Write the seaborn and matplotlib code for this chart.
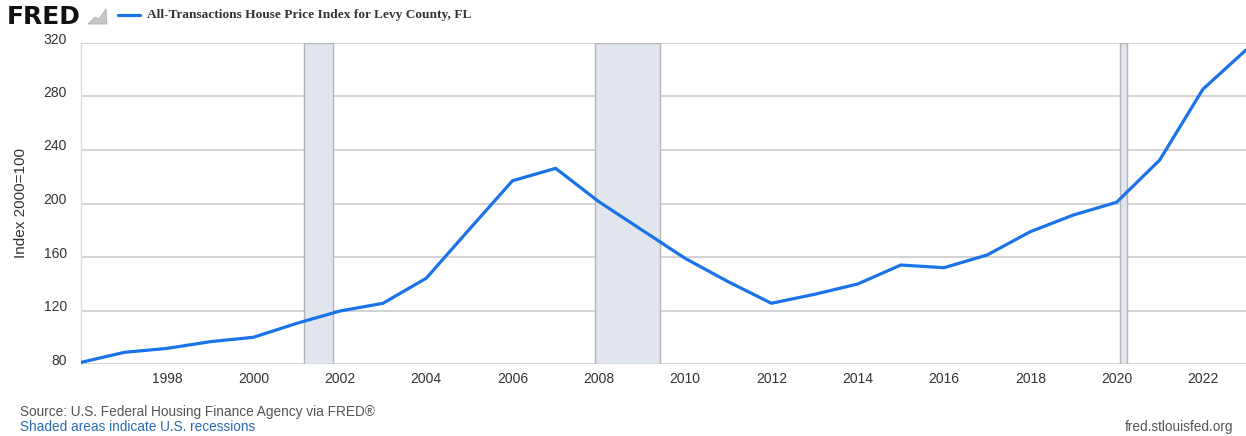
import matplotlib
matplotlib.use("Agg")
import matplotlib.pyplot as plt
import matplotlib.transforms as mtransforms
from matplotlib.patches import Polygon
import seaborn as sns
import pandas as pd

years = list(range(1996, 2024))
index_values = [81.2, 88.7, 91.7, 96.7, 100.0, 110.4, 119.6, 125.4, 144.1, 180.7,
                217.0, 226.3, 201.4, 180.2, 159.0, 141.5, 125.4, 132.1, 139.8, 154.0,
                152.0, 161.5, 178.9, 191.4, 200.9, 232.5, 285.4, 314.8]
recessions = [(2001.17, 2001.83), (2007.92, 2009.42), (2020.08, 2020.25)]
y_ticks = [80, 120, 160, 200, 240, 280, 320]
x_ticks = list(range(1998, 2023, 2))
series_name = "All-Transactions House Price Index for Levy County, FL"

df = pd.DataFrame({"year": years, "value": index_values})

sns.set_theme(style="whitegrid")
plt.rcParams['font.family'] = ['Liberation Sans', 'DejaVu Sans']

W, H = 1246, 436
fig = plt.figure(figsize=(W / 100, H / 100), dpi=100)
ax = fig.add_axes([81 / W, 1 - 364 / H, (1246 - 81) / W, (364 - 43) / H])

for a, b in recessions:
    ax.axvspan(a, b, facecolor="#e1e5ee", edgecolor="#b4b4b4", linewidth=1.0, zorder=1)

sns.lineplot(data=df, x="year", y="value", ax=ax, color="#1a73e8", linewidth=2.3, zorder=3)

ax.set_xlim(1996, 2023)
ax.set_ylim(80, 320)
ax.set_yticks(y_ticks)
ax.set_xticks(x_ticks)
ax.set_xticklabels([str(t) for t in x_ticks])
ax.grid(axis="y", color="#cccccc", linewidth=1.2)
ax.grid(axis="x", visible=False)
ax.set_facecolor("white")
for side in ["top", "right", "bottom"]:
    ax.spines[side].set_visible(False)
ax.spines["left"].set_color("#dddddd")
ax.spines["left"].set_linewidth(1.0)
ax.tick_params(axis="both", length=0, labelsize=10, labelcolor="#333333")
ax.tick_params(axis="y", pad=10)
ax.tick_params(axis="x", pad=6)
offset = mtransforms.ScaledTranslation(0, 5 / 100, fig.dpi_scale_trans)
for lbl in ax.get_yticklabels():
    lbl.set_transform(lbl.get_transform() + offset)
ax.set_xlabel("")
ax.set_ylabel("Index 2000=100", fontsize=11, color="#333333", labelpad=11)

# Header
fig.text(7 / W, 1 - 17 / H, "FRED", fontsize=18, fontweight="bold",
         family=["DejaVu Sans"], color="#111111", va="center", ha="left")
icon = Polygon([[88 / W, 1 - 24 / H], [95 / W, 1 - 17 / H], [99 / W, 1 - 19 / H],
                [106 / W, 1 - 9 / H], [107 / W, 1 - 24 / H]],
               closed=True, transform=fig.transFigure, facecolor="#c8c8c8",
               edgecolor="#b0b0b0", linewidth=0.6)
fig.add_artist(icon)
fig.add_artist(plt.Line2D([118 / W, 140 / W], [1 - 15 / H, 1 - 15 / H], color="#1a73e8",
                          linewidth=2.3, transform=fig.transFigure))
fig.text(147 / W, 1 - 15 / H, series_name, fontsize=9.6, fontweight="bold",
         family=["Liberation Serif", "DejaVu Serif"], color="#333333", va="center", ha="left")

# Footer
fig.text(20 / W, 1 - 412 / H, "Source: U.S. Federal Housing Finance Agency via FRED\u00ae",
         fontsize=9.8, color="#555555", va="center", ha="left")
fig.text(20 / W, 1 - 427 / H, "Shaded areas indicate U.S. recessions",
         fontsize=9.8, color="#2a6bb5", va="center", ha="left")
fig.text(1233 / W, 1 - 427 / H, "fred.stlouisfed.org",
         fontsize=9.8, color="#555555", va="center", ha="right")

fig.savefig("out.png", dpi=100, facecolor="white")
